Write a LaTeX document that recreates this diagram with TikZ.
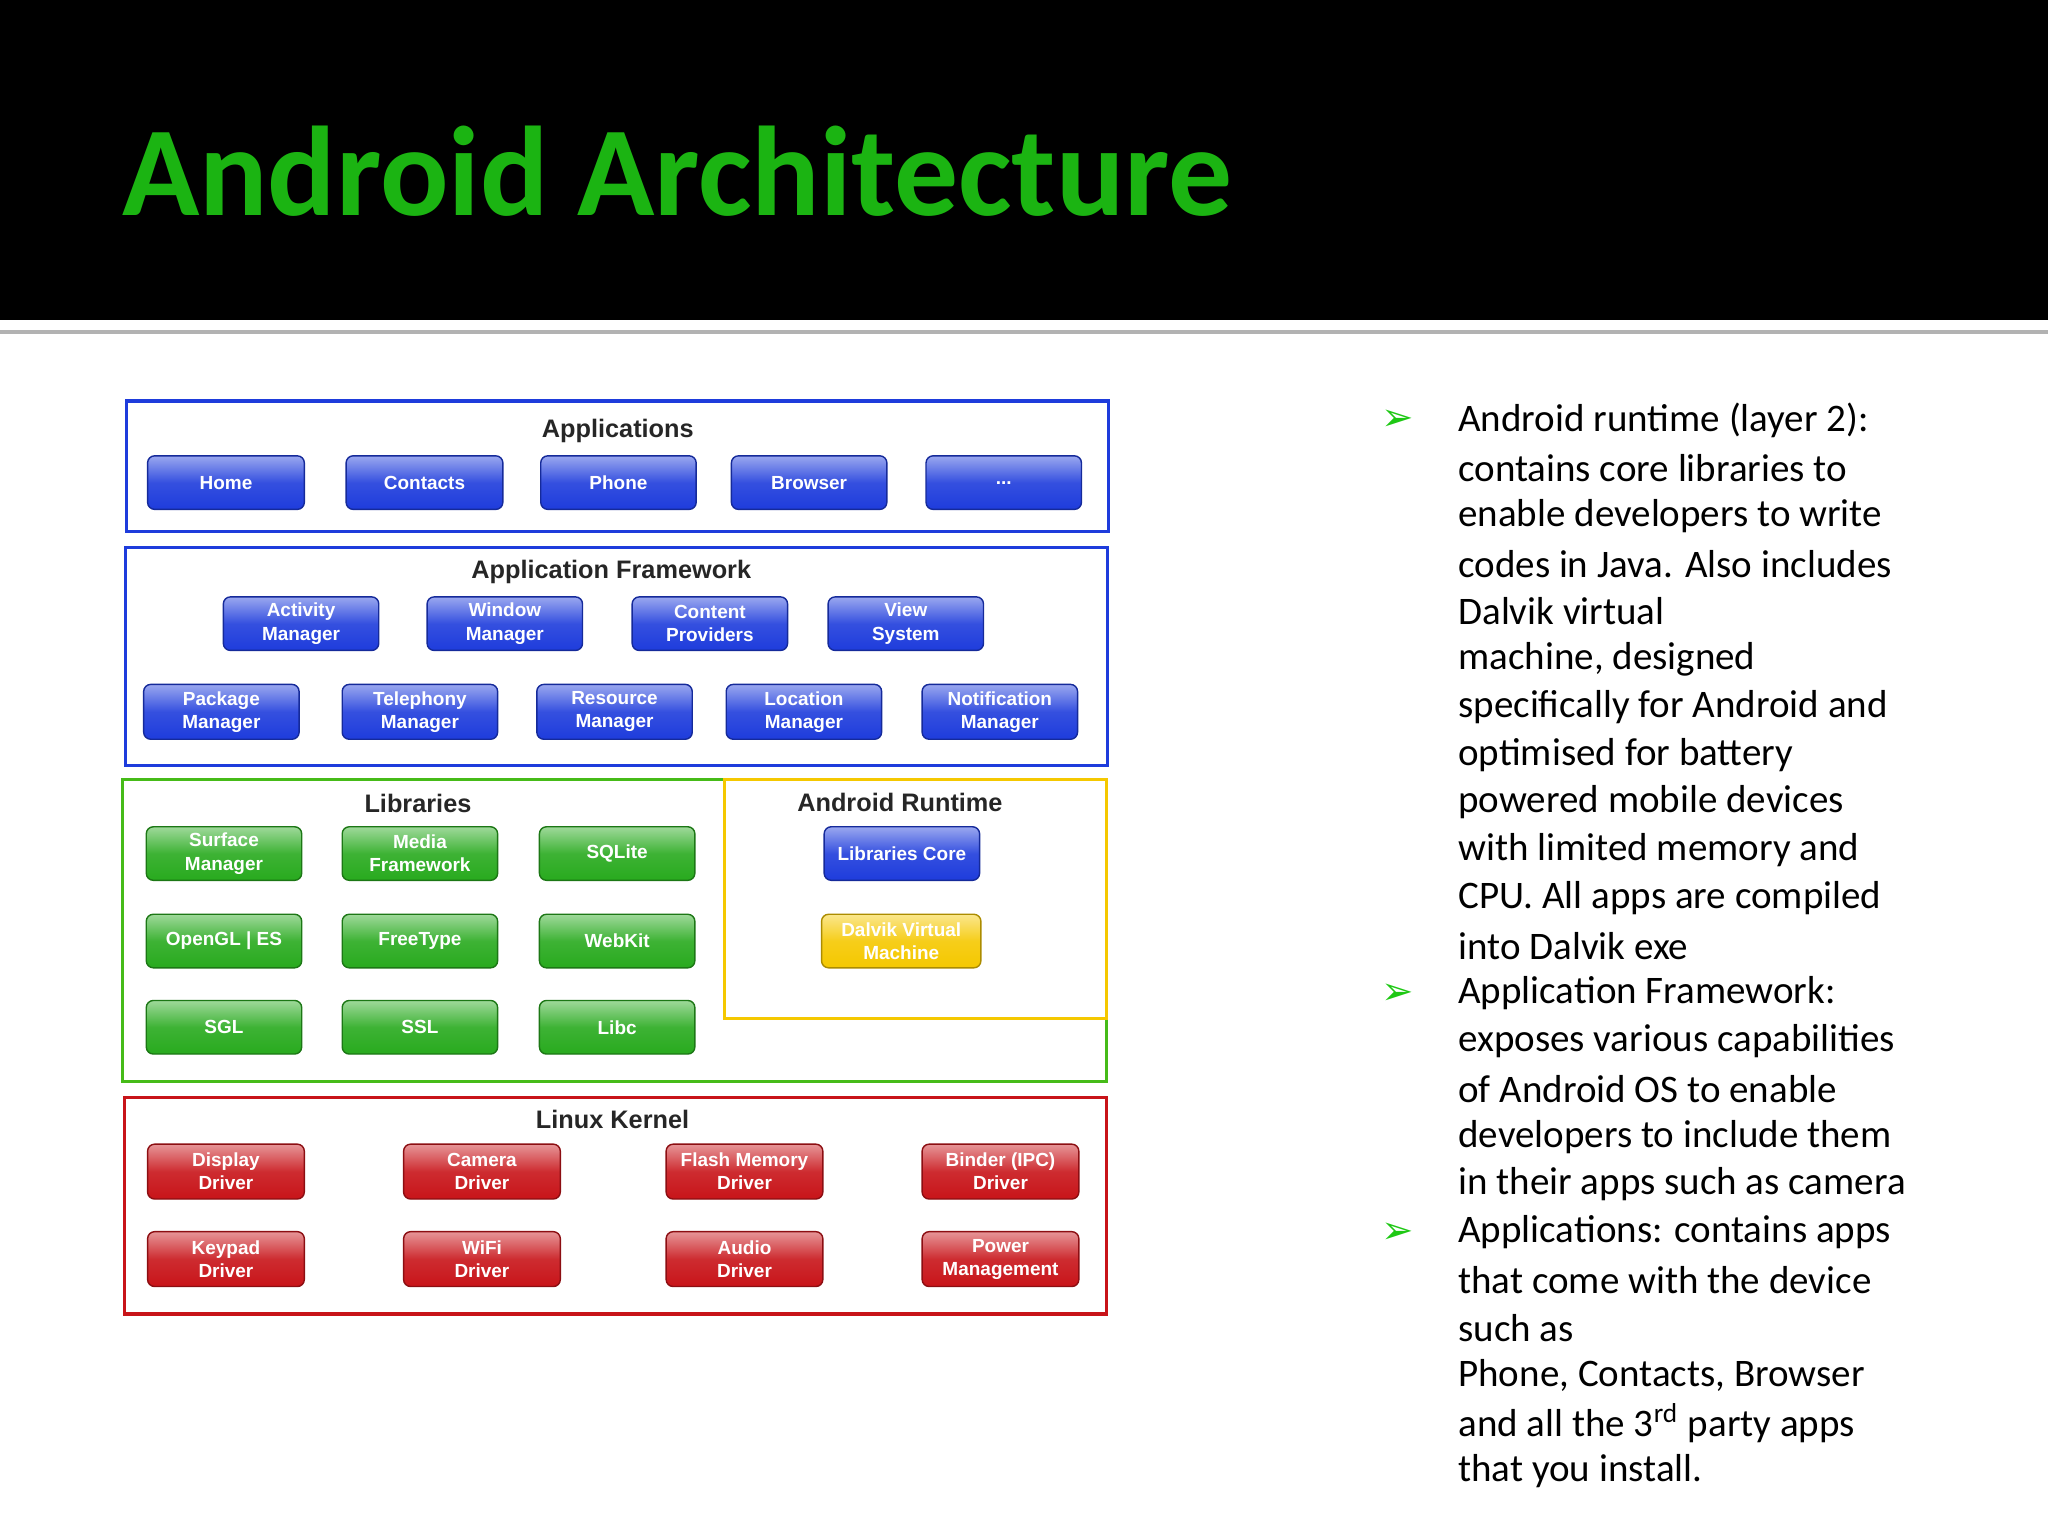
\documentclass[tikz,border=0pt]{standalone}
\usepackage{fontspec}
\setmainfont{Carlito}
\newfontfamily\btnfont{Liberation Sans}
\newfontfamily\djv{DejaVu Sans}
\definecolor{tgreen}{RGB}{30,200,20}
\definecolor{bblue}{RGB}{30,60,220}
\definecolor{bgreen}{RGB}{40,170,30}
\definecolor{bred}{RGB}{200,20,25}
\definecolor{byellow}{RGB}{245,200,0}
\begin{document}
\begin{tikzpicture}[x=0.013061cm,y=-0.013061cm,
  btn/.style={rounded corners=1.5pt,text=white,font=\btnfont\bfseries\fontsize{5.4}{6.6}\selectfont,align=center,inner sep=0pt},
  lay/.style={line width=0.9pt},
  ttl/.style={font=\btnfont\bfseries\fontsize{7.2}{8}\selectfont,text=black!85},
  body/.style={anchor=west,font=\fontsize{11.1}{13}\selectfont,inner sep=0pt},
  bul/.style={font=\djv\fontsize{11}{12}\selectfont,text=tgreen,inner sep=0pt}]
\useasboundingbox (0,0) rectangle (1568,1176);
\fill[black] (0,0) rectangle (1568,245);
\draw[gray!60,line width=1.2pt] (0,254) -- (1568,254);
\node[anchor=base west,inner sep=0pt,text=tgreen!90!black,font=\bfseries\fontsize{36.3}{40}\selectfont] (title) at (93,165) {Android Architecture};
% button macro
\newcommand\btn[6]{\shade[rounded corners=2pt,top color=#6!45!white,bottom color=#6,middle color=#6!90!white] (#2,#3) rectangle (#4,#5);
  \draw[#6!70!black,rounded corners=2pt,line width=0.4pt] (#2,#3) rectangle (#4,#5);
  \node[btn] (#1) at ({(#2+#4)/2},{(#3+#5)/2}) {};}
\newcommand\lbl[2]{\node[btn] at (#1) {#2};}
% Applications
\draw[lay,bblue] (97,307) rectangle (849,407);
\node[ttl] (tapp) at (473,330) {Applications};
\btn{a1}{113}{349}{233}{390}{bblue}\lbl{a1}{Home}
\btn{a2}{265}{349}{385}{390}{bblue}\lbl{a2}{Contacts}
\btn{a3}{414}{349}{533}{390}{bblue}\lbl{a3}{Phone}
\btn{a4}{560}{349}{679}{390}{bblue}\lbl{a4}{Browser}
\btn{a5}{709}{349}{828}{390}{bblue}\lbl{a5}{...}
% Framework
\draw[lay,bblue] (96,419) rectangle (848,586);
\node[ttl] (tfw) at (468,438) {Application Framework};
\btn{f1}{171}{457}{290}{498}{bblue}\lbl{f1}{Activity\\Manager}
\btn{f2}{327}{457}{446}{498}{bblue}\lbl{f2}{Window\\Manager}
\btn{f3}{484}{457}{603}{498}{bblue}\lbl{f3}{Content\\Providers}
\btn{f4}{634}{457}{753}{498}{bblue}\lbl{f4}{View\\System}
\btn{f5}{110}{524}{229}{566}{bblue}\lbl{f5}{Package\\Manager}
\btn{f6}{262}{524}{381}{566}{bblue}\lbl{f6}{Telephony\\Manager}
\btn{f7}{411}{524}{530}{566}{bblue}\lbl{f7}{Resource\\Manager}
\btn{f8}{556}{524}{675}{566}{bblue}\lbl{f8}{Location\\Manager}
\btn{f9}{706}{524}{825}{566}{bblue}\lbl{f9}{Notification\\Manager}
% Libraries
\draw[lay,bgreen!80!lime] (94,597) rectangle (847,828);
\draw[lay,byellow] (555,597) rectangle (847,780);
\node[ttl] (tlib) at (320,615) {Libraries};
\node[ttl] (trt) at (689,614) {Android Runtime};
\btn{l1}{112}{633}{231}{674}{bgreen}\lbl{l1}{Surface\\Manager}
\btn{l2}{262}{633}{381}{674}{bgreen}\lbl{l2}{Media\\Framework}
\btn{l3}{413}{633}{532}{674}{bgreen}\lbl{l3}{SQLite}
\btn{l4}{112}{700}{231}{741}{bgreen}\lbl{l4}{OpenGL | ES}
\btn{l5}{262}{700}{381}{741}{bgreen}\lbl{l5}{FreeType}
\btn{l6}{413}{700}{532}{741}{bgreen}\lbl{l6}{WebKit}
\btn{l7}{112}{766}{231}{807}{bgreen}\lbl{l7}{SGL}
\btn{l8}{262}{766}{381}{807}{bgreen}\lbl{l8}{SSL}
\btn{l9}{413}{766}{532}{807}{bgreen}\lbl{l9}{Libc}
\btn{r1}{631}{633}{750}{674}{bblue}\lbl{r1}{Libraries Core}
\btn{r2}{629}{700}{751}{741}{byellow}\lbl{r2}{Dalvik Virtual\\Machine}
% Kernel
\draw[lay,bred] (95,840) rectangle (847,1006);
\node[ttl] (tk) at (469,857) {Linux Kernel};
\btn{k1}{113}{876}{233}{918}{bred}\lbl{k1}{Display\\Driver}
\btn{k2}{309}{876}{429}{918}{bred}\lbl{k2}{Camera\\Driver}
\btn{k3}{510}{876}{630}{918}{bred}\lbl{k3}{Flash Memory\\Driver}
\btn{k4}{706}{876}{826}{918}{bred}\lbl{k4}{Binder (IPC)\\Driver}
\btn{k5}{113}{943}{233}{985}{bred}\lbl{k5}{Keypad\\Driver}
\btn{k6}{309}{943}{429}{985}{bred}\lbl{k6}{WiFi\\Driver}
\btn{k7}{510}{943}{630}{985}{bred}\lbl{k7}{Audio\\Driver}
\btn{k8}{706}{943}{826}{985}{bred}\lbl{k8}{Power\\Management}
% right text
\node[bul] (b1) at (1070,322) {➢};
\node[bul] (b2) at (1070,761) {➢};
\node[bul] (b3) at (1070,944) {➢};
\foreach \t [count=\i from 0] in {Android runtime (layer 2):,contains core libraries to,enable developers to write,codes in Java. Also includes,Dalvik virtual,{machine, designed},specifically for Android and,optimised for battery,powered mobile devices,with limited memory and,CPU. All apps are compiled,into Dalvik exe,Application Framework:,exposes various capabilities,of Android OS to enable,developers to include them,in their apps such as camera,Applications: contains apps,that come with the device,such as,{Phone, Contacts, Browser},and all the 3\textsuperscript{rd} party apps,that you install.}
  \node[body] (t\i) at (1116,{322+\i*36.55}) {\t};
\end{tikzpicture}
\end{document}
